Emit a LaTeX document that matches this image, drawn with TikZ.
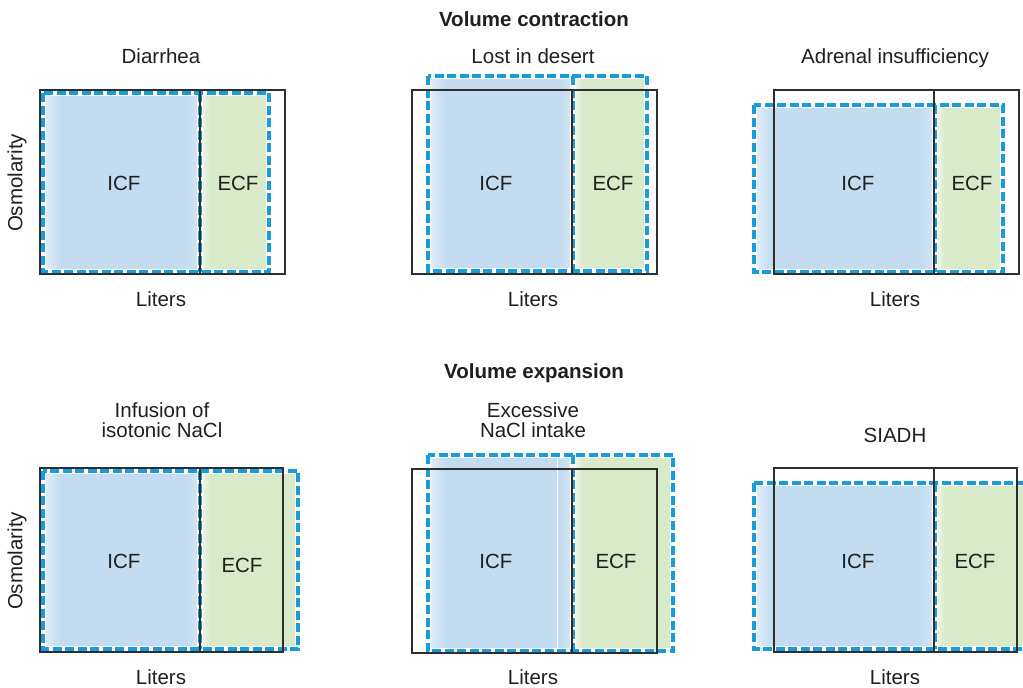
\documentclass[tikz,border=0pt]{standalone}
\usepackage{fontspec}
\setmainfont{Liberation Sans}
\definecolor{icfblue}{HTML}{C3DCF0}
\definecolor{icfpale}{HTML}{E4EFF9}
\definecolor{icfpaleR}{HTML}{D6E7F5}
\definecolor{ecfgreen}{HTML}{D8EAC9}
\definecolor{ecfpale}{HTML}{F2F8EC}
\definecolor{dashblue}{HTML}{1A9BDA}
\definecolor{boxline}{HTML}{2E2E2E}
\tikzset{
  lbl/.style={font=\fontsize{20.5}{22}\selectfont, inner sep=0pt, anchor=base, text=black!88},
  ttl/.style={lbl, font=\fontsize{20.5}{22}\selectfont\bfseries},
  rot/.style={font=\fontsize{20.5}{22}\selectfont, inner sep=0pt, rotate=90, text=black!88},
  halo/.style={draw=white, line width=5.4pt},
  dashbox/.style={draw=dashblue, line width=3.2pt, dash pattern=on 9pt off 3.5pt},
  blackbox/.style={draw=boxline, line width=1.2pt},
}
\begin{document}
\begin{tikzpicture}[x=1pt,y=-1pt]
\useasboundingbox (0,0) rectangle (1023,688);
\clip (0,0) rectangle (1023,688);
% panels: black box x0/y0/x1/y1/div ; dashed box x0/y0/x1/y1/div
\foreach \bx/\by/\bX/\bY/\bd/\dx/\dy/\dX/\dY/\dd in {
  40/90/285/274/200/43/93/269/272/200,
  412/90/657/274/572/428/76/647/271/573,
  774/90/1019/274/934/754/105/1003/272/935,
  40/468/283/652/200/43/471/298/649/200,
  412/469/657/653/572/428/455/673/651/573,
  774/468/1017/652/934/754/483/1030/649/935}{
  \fill[icfblue] (\dx,\dy) rectangle (\dd,\dY);
  \shade[left color=icfpale, right color=icfblue] (\dx,\dy) rectangle (\dx+18,\dY);
  \shade[left color=icfblue, right color=icfpaleR] (\dd-14,\dy) rectangle (\dd,\dY);
  \fill[ecfgreen] (\dd,\dy) rectangle (\dX,\dY);
  \shade[left color=ecfpale, right color=ecfgreen] (\dd,\dy) rectangle (\dd+10,\dY);
}
% white seam in excessive NaCl panel
\draw[white, line width=0.9pt] (557,455) -- (557,651);
\foreach \bx/\by/\bX/\bY/\bd/\dx/\dy/\dX/\dY/\dd in {
  40/90/285/274/200/43/93/269/272/200,
  412/90/657/274/572/428/76/647/271/573,
  774/90/1019/274/934/754/105/1003/272/935,
  40/468/283/652/200/43/471/298/649/200,
  412/469/657/653/572/428/455/673/651/573,
  774/468/1017/652/934/754/483/1030/649/935}{
  \draw[halo] (\dx,\dy) rectangle (\dX,\dY);
  \draw[halo] (\dd,\dy) -- (\dd,\dY);
  \draw[dashbox] (\dx,\dy) rectangle (\dX,\dY);
  \draw[dashbox] (\dd,\dy) -- (\dd,\dY);
  \draw[blackbox] (\bx,\by) rectangle (\bX,\bY);
  \draw[blackbox] (\bd,\by) -- (\bd,\bY);
}
% titles
\node[ttl] (t1) at (534,26) {Volume contraction};
\node[ttl] (t2) at (534,378) {Volume expansion};
\node[lbl] (h1) at (161,63) {Diarrhea};
\node[lbl] (h2) at (533,63) {Lost in desert};
\node[lbl] (h3) at (895,63) {Adrenal insufficiency};
\node[lbl] (h4a) at (162,417) {Infusion of};
\node[lbl] (h4b) at (162,437) {isotonic NaCl};
\node[lbl] (h5a) at (533,417) {Excessive};
\node[lbl] (h5b) at (533,437) {NaCl intake};
\node[lbl] (h6) at (895,442) {SIADH};
% fluid labels
\node[lbl] (i1) at (124,190) {ICF};
\node[lbl] (e1) at (238,190) {ECF};
\node[lbl] (i2) at (496,190) {ICF};
\node[lbl] (e2) at (613,190) {ECF};
\node[lbl] (i3) at (858,190) {ICF};
\node[lbl] (e3) at (972,190) {ECF};
\node[lbl] (i4) at (124,568) {ICF};
\node[lbl] (e4) at (242,572) {ECF};
\node[lbl] (i5) at (496,568) {ICF};
\node[lbl] (e5) at (616,568) {ECF};
\node[lbl] (i6) at (858,568) {ICF};
\node[lbl] (e6) at (975,568) {ECF};
% axes
\node[lbl] (l1) at (161,306) {Liters};
\node[lbl] (l2) at (533,306) {Liters};
\node[lbl] (l3) at (895,306) {Liters};
\node[lbl] (l4) at (161,684) {Liters};
\node[lbl] (l5) at (533,684) {Liters};
\node[lbl] (l6) at (895,684) {Liters};
\node[rot] (o1) at (17,183) {Osmolarity};
\node[rot] (o2) at (17,561) {Osmolarity};
\end{tikzpicture}
\end{document}
